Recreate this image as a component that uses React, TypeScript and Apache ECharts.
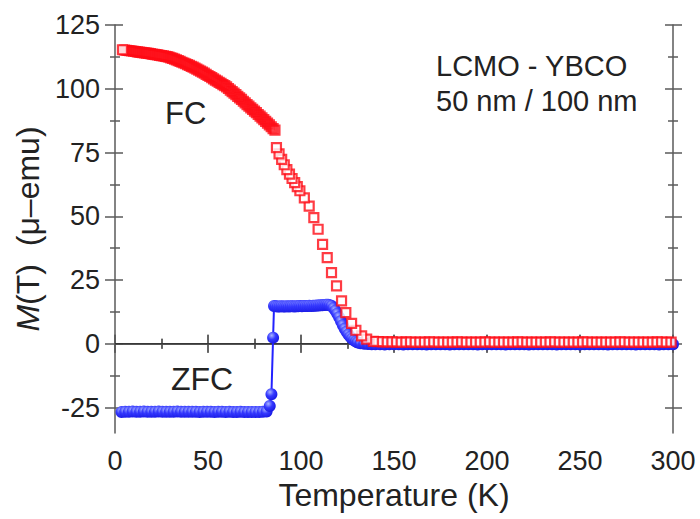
import { useEffect, useRef } from "react";
import * as echarts from "echarts";

// Zero-field-cooled magnetisation, measured on warming (K, µemu)
const zfcTemp = [
  3.5, 5.5, 7.5, 9.5, 11.5, 13.5, 15.5, 17.5, 19.5, 21.5, 23.5, 25.5, 27.5, 29.5, 31.5, 33.5, 35.5, 37.5, 39.5, 41.5,
  43.5, 45.5, 47.5, 49.5, 51.5, 53.5, 55.5, 57.5, 59.5, 61.5, 63.5, 65.5, 67.5, 69.5, 71.5, 73.5, 75.5, 77.5, 79.5, 81.5,
  83.2, 84.1, 85.0, 85.5,
  86.5, 87.5, 88.5, 89.5, 90.5, 91.5, 92.5, 93.5, 94.5, 95.5, 96.5, 97.5, 98.5, 99.5, 100.5, 101.5, 102.5, 103.5, 104.5, 105.5,
  106.5, 107.5, 108.5, 109.5, 110.5, 111.5, 112.5, 113.5, 114.5, 115.5,
  116.5, 117.5, 118.5, 119.5, 120.5, 121.5, 122.5, 123.5, 124.5, 125.5, 126.5, 127.5, 128.5, 129.5, 130.5,
  132, 134, 136, 138,
  140, 142.5, 145, 147.5, 150, 152.5, 155, 157.5, 160, 162.5, 165, 167.5, 170, 172.5, 175, 177.5, 180, 182.5, 185, 187.5,
  190, 192.5, 195, 197.5, 200, 202.5, 205, 207.5, 210, 212.5, 215, 217.5, 220, 222.5, 225, 227.5, 230, 232.5, 235, 237.5,
  240, 242.5, 245, 247.5, 250, 252.5, 255, 257.5, 260, 262.5, 265, 267.5, 270, 272.5, 275, 277.5, 280, 282.5, 285, 287.5,
  290, 292.5, 295, 297.5, 300,
];
const zfcMoment = [
  -26.8, -26.7, -26.7, -26.6, -26.7, -26.7, -26.6, -26.7, -26.7, -26.7, -26.6, -26.7, -26.7, -26.7, -26.7, -26.6, -26.7, -26.7, -26.7, -26.7,
  -26.7, -26.8, -26.7, -26.7, -26.7, -26.8, -26.7, -26.7, -26.8, -26.7, -26.8, -26.8, -26.7, -26.8, -26.8, -26.8, -26.8, -26.8, -26.7, -26.6,
  -24.4, -19.8, 2.4, 14.8,
  14.7, 14.6, 14.6, 14.7, 14.6, 14.6, 14.7, 14.6, 14.7, 14.7, 14.6, 14.7, 14.7, 14.8, 14.7, 14.8, 14.8, 14.8, 14.9, 14.8,
  14.9, 14.9, 15.0, 15.0, 15.1, 15.1, 15.2, 15.3, 15.3, 15.1,
  14.8, 14.0, 13.0, 11.8, 10.4, 8.8, 7.3, 5.9, 4.7, 3.6, 2.7, 2.0, 1.4, 0.9, 0.5,
  0.2, 0.0, -0.1, -0.2,
  -0.2, -0.2, -0.3, -0.2, -0.2, -0.2, -0.3, -0.2, -0.2, -0.2, -0.2, -0.3, -0.2, -0.2, -0.2, -0.2, -0.3, -0.2, -0.2, -0.2,
  -0.2, -0.2, -0.3, -0.2, -0.2, -0.2, -0.2, -0.2, -0.3, -0.2, -0.2, -0.2, -0.2, -0.3, -0.2, -0.2, -0.2, -0.2, -0.2, -0.3,
  -0.2, -0.2, -0.2, -0.2, -0.3, -0.2, -0.2, -0.2, -0.2, -0.2, -0.3, -0.2, -0.2, -0.2, -0.2, -0.2, -0.3, -0.2, -0.2, -0.2,
  -0.2, -0.3, -0.2, -0.2, -0.2,
];

// Field-cooled magnetisation (K, µemu), listed by rising temperature
const fcTemp = [
  4, 5, 6, 7, 8, 9, 10, 11, 12, 13, 14, 15, 16, 17, 18, 19, 20, 21, 22, 23,
  24, 25, 26, 27, 28, 29, 30, 31, 32, 33, 34, 35, 36, 37, 38, 39, 40, 41, 42, 43,
  44, 45, 46, 47, 48, 49, 50, 51, 52, 53, 54, 55, 56, 57, 58, 59, 60, 61, 62, 63,
  64, 65, 66, 67, 68, 69, 70, 71, 72, 73, 74, 75, 76, 77, 78, 79, 80, 81, 82, 83,
  84, 85, 86,
  86.8, 88.2, 89.6, 91.0, 92.4, 93.8, 95.2, 96.6, 98.0, 99.4, 101.8, 104.4, 106.9, 109.2, 111.6, 114.1, 116.4, 119.1, 121.8, 124.1,
  127.2, 129.5, 132.6, 135.3, 138.9,
  141.5, 144, 146.5, 149, 151.5, 154, 156.5, 159, 161.5, 164, 166.5, 169, 171.5, 174, 176.5, 179, 181.5, 184, 186.5, 189,
  191.5, 194, 196.5, 199, 201.5, 204, 206.5, 209, 211.5, 214, 216.5, 219, 221.5, 224, 226.5, 229, 231.5, 234, 236.5, 239,
  241.5, 244, 246.5, 249, 251.5, 254, 256.5, 259, 261.5, 264, 266.5, 269, 271.5, 274, 276.5, 279, 281.5, 284, 286.5, 289,
  291.5, 294, 296.5, 299,
];
const fcMoment = [
  115.3, 115.2, 115.1, 115.0, 114.9, 114.8, 114.7, 114.6, 114.5, 114.4, 114.3, 114.2, 114.1, 114.0, 113.9, 113.8, 113.6, 113.5, 113.4, 113.3,
  113.1, 113.0, 112.9, 112.7, 112.6, 112.4, 112.1, 111.9, 111.6, 111.3, 111.0, 110.7, 110.4, 110.1, 109.8, 109.5, 109.2, 108.8, 108.5, 108.1,
  107.7, 107.3, 106.9, 106.5, 106.1, 105.6, 105.2, 104.8, 104.4, 103.9, 103.4, 103.0, 102.5, 102.1, 101.6, 101.2, 100.7, 100.1, 99.5, 98.9,
  98.3, 97.7, 97.0, 96.4, 95.8, 95.1, 94.5, 93.8, 93.2, 92.5, 91.9, 91.2, 90.6, 89.9, 89.3, 88.6, 87.9, 87.2, 86.5, 85.8,
  85.1, 84.4, 83.8,
  76.9, 74.5, 72.3, 70.2, 68.3, 66.5, 64.8, 63.2, 61.6, 60.0, 57.2, 54.0, 49.5, 44.9, 39.0, 33.8, 27.9, 22.7, 16.8, 12.2,
  8.0, 5.3, 3.1, 1.8, 0.9,
  0.8, 0.7, 0.7, 0.7, 0.6, 0.6, 0.7, 0.6, 0.6, 0.6, 0.6, 0.7, 0.6, 0.6, 0.6, 0.6, 0.6, 0.7, 0.6, 0.6,
  0.6, 0.6, 0.6, 0.7, 0.6, 0.6, 0.6, 0.6, 0.6, 0.6, 0.7, 0.6, 0.6, 0.6, 0.6, 0.6, 0.6, 0.7, 0.6, 0.6,
  0.6, 0.6, 0.6, 0.6, 0.7, 0.6, 0.6, 0.6, 0.6, 0.6, 0.6, 0.6, 0.7, 0.6, 0.6, 0.6, 0.6, 0.6, 0.6, 0.6,
  0.7, 0.6, 0.6, 0.6,
];

const xRange = [0, 300];
const xStep = 50;
const yRange = [-35, 125];
const yMajorTicks = [-25, 0, 25, 50, 75, 100, 125];
const yMinorTicks = [-12.5, 12.5, 37.5, 62.5, 87.5, 112.5];

const FONT = '"Liberation Sans", Arial, Helvetica, sans-serif';
const INK = "#222";
const AXIS = "#5a5a5a";
const RED = "#ff0a14";
const BLUE = "#2222ff";
// below this temperature the FC squares are packed so tightly they read as one band
const FC_DENSE_BELOW = 86.5;

export default function App() {
  const ref = useRef<HTMLDivElement>(null);

  useEffect(() => {
    if (!ref.current) return;
    const chart = echarts.init(ref.current, null, { renderer: "svg" });

    const zfcPoints = zfcTemp.map((t, i) => [t, zfcMoment[i]]);
    const coldest = Math.min(...fcTemp);
    // FC was recorded while cooling, so the coldest squares are drawn last;
    // the packed low-temperature squares are left hollow so their outlines merge
    const fcPoints = fcTemp
      .map((t, i) => ({
        value: [t, fcMoment[i]],
        itemStyle:
          t < FC_DENSE_BELOW && t !== coldest ? { color: "rgba(255,255,255,0)" } : undefined,
      }))
      .reverse();
    const zeroLine = [
      [xRange[0], 0],
      [xRange[1], 0],
    ];

    const lineStyle = { color: AXIS, width: 1.5 };

    const xAxis = (position: "top" | "bottom", inside: boolean, main: boolean) => ({
      type: "value",
      position,
      min: xRange[0],
      max: xRange[1],
      interval: xStep,
      axisLine: { show: main, lineStyle },
      axisTick: { show: true, inside, length: 9, lineStyle },
      minorTick: { show: true, splitNumber: 2, length: 5, lineStyle },
      axisLabel: {
        show: main && position === "bottom",
        margin: 14,
        fontSize: 27,
        fontFamily: FONT,
        color: INK,
      },
      splitLine: { show: false },
      minorSplitLine: { show: false },
      name: main && position === "bottom" ? "Temperature (K)" : "",
      nameLocation: "middle",
      nameGap: 44,
      nameTextStyle: { fontSize: 32, fontFamily: FONT, color: INK },
    });

    const yAxis = (
      position: "left" | "right",
      inside: boolean,
      ticks: number[],
      length: number,
      main: boolean,
    ) => ({
      type: "value",
      position,
      min: yRange[0],
      max: yRange[1],
      axisLine: { show: main, lineStyle },
      axisTick: { show: true, inside, length, lineStyle, customValues: ticks },
      axisLabel: {
        show: main && position === "left",
        customValues: yMajorTicks,
        margin: 15,
        fontSize: 27,
        fontFamily: FONT,
        color: INK,
      },
      splitLine: { show: false },
      name: main && position === "left" ? "{it|M}(T)  (μ–emu)" : "",
      nameLocation: "middle",
      nameGap: 68,
      nameRotate: 90,
      nameTextStyle: {
        fontSize: 32,
        fontFamily: FONT,
        color: INK,
        rich: { it: { fontSize: 32, fontFamily: FONT, fontStyle: "italic", color: INK } },
      },
    });

    const sphere = new echarts.graphic.RadialGradient(0.38, 0.32, 0.75, [
      { offset: 0, color: "#a8b4ff" },
      { offset: 0.45, color: "#3539ff" },
      { offset: 1, color: "#1414e0" },
    ]);

    const text = (x: number, y: number, s: string, size: number) => ({
      type: "text",
      x,
      y,
      silent: true,
      style: { text: s, fontSize: size, fontFamily: FONT, fill: INK, verticalAlign: "middle" },
    });

    chart.setOption({
      animation: false,
      backgroundColor: "#fff",
      grid: { left: 115, right: 27, top: 25, bottom: 86, containLabel: false },
      xAxis: [
        xAxis("bottom", false, true),
        xAxis("bottom", true, false),
        xAxis("top", false, true),
        xAxis("top", true, false),
      ],
      yAxis: [
        yAxis("left", false, yMajorTicks, 10, true),
        yAxis("left", true, yMajorTicks, 8, false),
        yAxis("left", false, yMinorTicks, 5, false),
        yAxis("left", true, yMinorTicks, 5, false),
        yAxis("right", false, yMajorTicks, 9, true),
        yAxis("right", true, yMajorTicks, 8, false),
        yAxis("right", false, yMinorTicks, 5, false),
        yAxis("right", true, yMinorTicks, 5, false),
      ],
      series: [
        {
          name: "zero",
          type: "line",
          z: 2,
          data: zeroLine,
          symbol: "none",
          silent: true,
          lineStyle: { color: "#2a2a2a", width: 1.2 },
        },
        {
          name: "ZFC",
          type: "line",
          z: 3,
          data: zfcPoints,
          showAllSymbol: true,
          symbol: "circle",
          symbolSize: 12,
          silent: true,
          lineStyle: { color: BLUE, width: 2 },
          itemStyle: { color: sphere, borderWidth: 0 },
        },
        {
          name: "FC",
          type: "scatter",
          z: 4,
          data: fcPoints,
          symbol: "rect",
          symbolSize: 9,
          silent: true,
          itemStyle: { color: "#fff", borderColor: RED, borderWidth: 2.2 },
        },
      ],
      graphic: [
        text(165, 113, "FC", 31),
        text(171, 379, "ZFC", 32),
        text(436, 66, "LCMO - YBCO", 29),
        text(436, 101, "50 nm / 100 nm", 29),
      ],
    });

    return () => chart.dispose();
  }, []);

  return (
    <div
      ref={ref}
      style={{ position: "fixed", left: 0, top: 0, width: 700, height: 519 }}
    />
  );
}
